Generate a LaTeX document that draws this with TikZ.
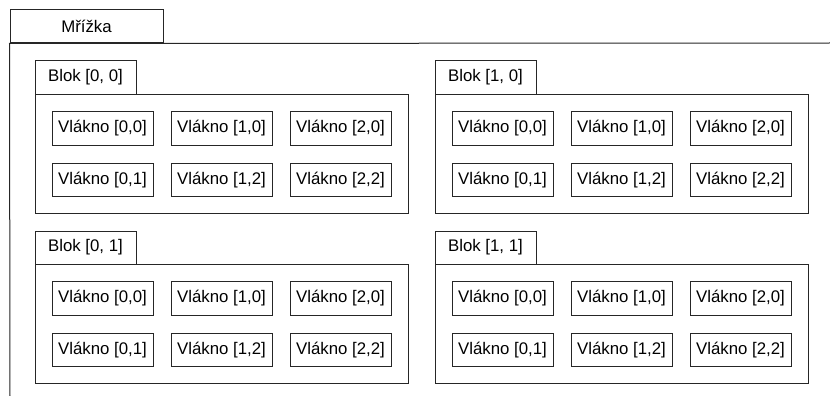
\documentclass[tikz,border=0pt]{standalone}
\usepackage{fontspec}
\setmainfont{Liberation Sans}
\begin{document}
\begin{tikzpicture}[x=1pt,y=-1pt,
  frame/.style={draw=black!85,line width=1pt},
  box/.style={frame,rectangle,inner sep=0pt,font=\fontsize{16.8}{20}\selectfont},
  tab/.style={box,minimum width=101pt,minimum height=33pt},
  body/.style={frame,rectangle,inner sep=0pt,minimum width=373pt,minimum height=119pt},
  thread/.style={box,minimum width=101pt,minimum height=33.5pt}]
\useasboundingbox (0,0) rectangle (830,396);
% grid
\node[box,minimum width=153pt,minimum height=33pt] (gridtab) at (86.5,26.5) {Mřížka};
\coordinate (gbot) at (10,396);
\coordinate (gright) at (830,43);
\draw[frame] (gbot) -- (gridtab.south west) -- (gright);
% blocks
\foreach \bx/\by/\bi/\bj in {35/61/0/0, 435/61/1/0, 35/231/0/1, 435/231/1/1}{
  \node[tab] (t\bi\bj) at (\bx+50.5,\by+16.5) {Blok [\bi, \bj]};
  \node[body] (b\bi\bj) at (\bx+186.5,\by+92.5) {};
  \foreach \tx/\ty/\lab/\nm in {67.5/67.5/{0,0}/a, 186.5/67.5/{1,0}/b, 305.5/67.5/{2,0}/c,
                                67.5/119/{0,1}/d, 186.5/119/{1,2}/e, 305.5/119/{2,2}/f}{
    \node[thread] (v\bi\bj\nm) at (\bx+\tx,\by+\ty) {Vlákno [\lab]};
  }
}
\end{tikzpicture}
\end{document}
